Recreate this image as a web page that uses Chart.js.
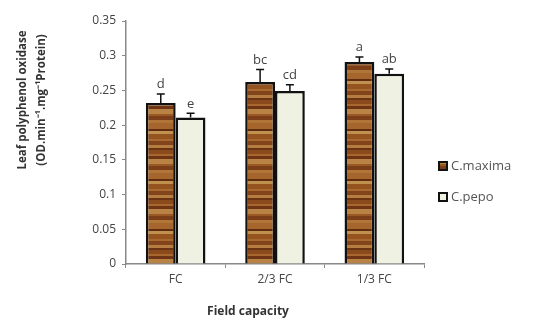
<!DOCTYPE html>
<html lang="en">
<head>
  <meta charset="UTF-8">
  <title>Leaf polyphenol oxidase</title>
  <script src="https://cdn.jsdelivr.net/npm/chart.js"></script>
  <style>
    body { margin: 0; background: #fff; }
    #wrap { width: 538px; height: 325px; }
  </style>
</head>
<body>
  <div id="wrap"><canvas id="chart" width="538" height="325"></canvas></div>
  <script>
    const categories = ['FC', '2/3 FC', '1/3 FC'];
    const maxima = [0.232, 0.262, 0.291];
    const maximaErr = [0.013, 0.018, 0.007];
    const maximaLetters = ['d', 'bc', 'a'];
    const pepo = [0.211, 0.249, 0.274];
    const pepoErr = [0.006, 0.009, 0.007];
    const pepoLetters = ['e', 'cd', 'ab'];
    const yTicks = [0, 0.05, 0.1, 0.15, 0.2, 0.25, 0.3, 0.35];

    // wood-grain look for the C.maxima bars: [colour, stripe height]
    function woodPattern() {
      const stripes = [['#8a4a1c', 4], ['#a7672e', 2], ['#6e3414', 3], ['#b88345', 5], ['#9a5824', 2],
                       ['#7c3e18', 4], ['#b07638', 3], ['#a5652c', 6], ['#5f2c10', 2], ['#c0904f', 3],
                       ['#94531f', 5], ['#a86a30', 2], ['#82451b', 4], ['#b57e40', 3], ['#6a3314', 2]];
      const h = stripes.reduce((a, s) => a + s[1], 0);
      const c = document.createElement('canvas');
      c.width = 8; c.height = h;
      const g = c.getContext('2d');
      let y = 0;
      stripes.forEach(([col, sh]) => { g.fillStyle = col; g.fillRect(0, y, 8, sh); y += sh; });
      return g.createPattern(c, 'repeat');
    }

    const font = '"Open Sans", "Liberation Sans", sans-serif';

    const extras = {
      id: 'extras',
      afterDatasetsDraw(chart) {
        const ctx = chart.ctx;
        const y = chart.scales.y;
        const sets = [[maximaErr, maximaLetters], [pepoErr, pepoLetters]];
        ctx.save();
        sets.forEach(([errs, letters], di) => {
          const meta = chart.getDatasetMeta(di);
          meta.data.forEach((bar, i) => {
            const v = chart.data.datasets[di].data[i];
            const top = y.getPixelForValue(v + errs[i]);
            ctx.strokeStyle = '#111';
            ctx.lineWidth = 1.5;
            ctx.beginPath();
            ctx.moveTo(bar.x, bar.y);
            ctx.lineTo(bar.x, top);
            ctx.moveTo(bar.x - 4, top);
            ctx.lineTo(bar.x + 4, top);
            ctx.stroke();
            ctx.fillStyle = '#444';
            ctx.font = '13px ' + font;
            ctx.textAlign = 'center';
            ctx.textBaseline = 'bottom';
            ctx.fillText(letters[i], bar.x, top - 3);
          });
        });
        // axis titles
        ctx.fillStyle = '#333';
        ctx.font = 'bold 11.5px ' + font;
        ctx.textAlign = 'center';
        ctx.textBaseline = 'middle';
        ctx.save();
        ctx.translate(23, 100);
        ctx.rotate(-Math.PI / 2);
        ctx.fillText('Leaf polyphenol oxidase', 0, 0);
        ctx.fillText('(OD.min\u207B\u00B9.mg\u207B\u00B9Protein)', 0, 19);
        ctx.restore();
        ctx.font = 'bold 12px ' + font;
        ctx.fillText('Field capacity', 248, 312);
        // legend
        ctx.font = '13px ' + font;
        ctx.textAlign = 'left';
        chart.data.datasets.forEach((ds, di) => {
          const ly = 166 + di * 31;
          ctx.fillStyle = ds.backgroundColor;
          ctx.fillRect(439, ly - 4, 8, 8);
          ctx.strokeStyle = '#111';
          ctx.lineWidth = 2;
          ctx.strokeRect(439, ly - 4, 8, 8);
          ctx.fillStyle = '#555';
          ctx.fillText(ds.label, 451, ly);
        });
        ctx.restore();
      }
    };

    new Chart(document.getElementById('chart'), {
      type: 'bar',
      data: {
        labels: categories,
        datasets: [
          { label: 'C.maxima', data: maxima, backgroundColor: woodPattern(),
            borderColor: '#111', borderWidth: 2.5, borderSkipped: 'bottom' },
          { label: 'C.pepo', data: pepo, backgroundColor: '#eff1e2',
            borderColor: '#111', borderWidth: 2.5, borderSkipped: 'bottom' }
        ]
      },
      options: {
        responsive: false,
        animation: false,
        events: [],
        layout: { padding: { left: 66, right: 114, top: 21, bottom: 26 } },
        datasets: { bar: { categoryPercentage: 0.6, barPercentage: 1 } },
        plugins: { legend: { display: false }, tooltip: { enabled: false } },
        scales: {
          x: {
            afterFit: s => { s.height = 35; },
            grid: { drawOnChartArea: false, tickLength: 4, color: '#888' },
            border: { color: '#888', width: 1.5 },
            ticks: { color: '#444', font: { size: 12, family: font }, padding: 4 }
          },
          y: {
            min: 0, max: 0.35,
            afterFit: s => { s.width = 60; },
            afterBuildTicks: s => { s.ticks = yTicks.map(v => ({ value: v })); },
            grid: { drawOnChartArea: false, tickLength: 4, color: '#888' },
            border: { color: '#888', width: 1.5 },
            ticks: { color: '#444', font: { size: 12, family: font }, padding: 6,
                     callback: v => String(v) }
          }
        }
      },
      plugins: [extras]
    });
  </script>
</body>
</html>
